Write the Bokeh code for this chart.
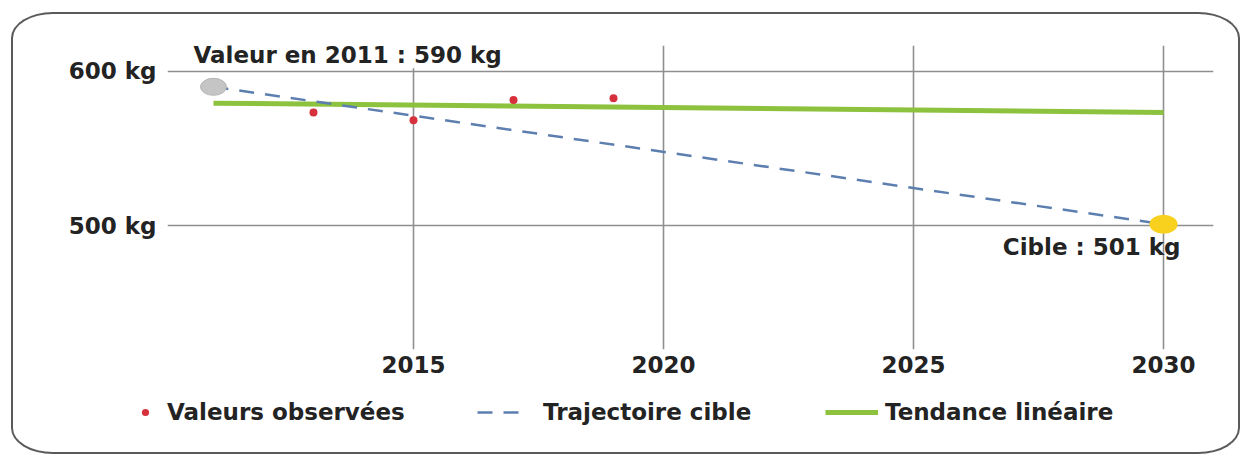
from bokeh.plotting import figure
from bokeh.layouts import column, row
from bokeh.models import Range1d, FixedTicker, Label, Legend, LegendItem
from bokeh.embed import file_html
from bokeh.resources import INLINE

# Observed household waste per inhabitant (kg)
observed_years = [2013, 2015, 2017, 2019]
observed_values = [573.3, 568.3, 581.5, 582.6]

# Reference value and target
start_year = 2011
start_value = 590
target_year = 2030
target_value = 501

# Target trajectory (straight line from reference to target)
trajectory_years = [start_year, target_year]
trajectory_values = [start_value, target_value]

# Linear trend of the observed values
trend_years = [2011, 2030]
trend_values = [579.4, 573.4]

x_ticks = [2015, 2020, 2025, 2030]
x_tick_labels = ["2015", "2020", "2025", "2030"]
y_ticks = [500, 600]
y_tick_labels = ["500 kg", "600 kg"]

legend_labels = ["Valeurs observées", "Trajectoire cible", "Tendance linéaire"]

FONT = "DejaVu Sans"
SIZE = "23px"
TEXT = "#232323"
GRID = "#8f8f8f"
FRAME = "2px solid #5a5a5a"

RED = "#d5303c"
BLUE = "#5d7fb0"
GREEN = "#8dc23f"
DASH = "15 11"

# ---- main chart -------------------------------------------------------
p = figure(
    width=1229, height=373,
    output_backend="svg", toolbar_location=None,
    x_range=Range1d(2010.08, 2031.0),
    y_range=Range1d(419.8, 616.76),
    min_border_left=154, min_border_right=29,
    min_border_top=31, min_border_bottom=38,
)
p.outline_line_color = None
p.background_fill_color = "white"
p.border_fill_color = None
p.styles = {
    "border": FRAME,
    "border-bottom": "none",
    "border-radius": "42px 42px 0 0 / 26px 26px 0 0",
}

p.xaxis.ticker = FixedTicker(ticks=x_ticks)
p.xaxis.major_label_overrides = dict(zip(x_ticks, x_tick_labels))
p.yaxis.ticker = FixedTicker(ticks=y_ticks)
p.yaxis.major_label_overrides = dict(zip(y_ticks, y_tick_labels))
for ax in (p.xaxis[0], p.yaxis[0]):
    ax.axis_line_color = None
    ax.major_tick_line_color = None
    ax.minor_tick_line_color = None
    ax.major_label_text_font = FONT
    ax.major_label_text_font_style = "bold"
    ax.major_label_text_font_size = SIZE
    ax.major_label_text_color = TEXT
p.xaxis.major_label_standoff = 0
p.yaxis.major_label_standoff = 5

p.xgrid.ticker = FixedTicker(ticks=x_ticks)
p.ygrid.ticker = FixedTicker(ticks=y_ticks)
for g in (p.xgrid[0], p.ygrid[0]):
    g.grid_line_color = GRID
    g.grid_line_width = 1.6

p.line(trend_years, trend_values, line_color=GREEN, line_width=5)
p.line(trajectory_years, trajectory_values, line_color=BLUE,
       line_width=2.5, line_dash=DASH)
p.scatter(observed_years, observed_values, marker="circle", size=8,
          fill_color=RED, line_color=None)
p.ellipse(x=[start_year], y=[start_value], width=26, height=17,
          width_units="screen", height_units="screen",
          fill_color="#c5c5c5", line_color="#b3b3b3", line_width=1)
p.ellipse(x=[target_year], y=[target_value], width=28, height=19,
          width_units="screen", height_units="screen",
          fill_color="#f8d11e", line_color=None)

p.add_layout(Label(
    x=start_year, y=600, x_offset=-20, y_offset=16,
    text=f"Valeur en {start_year} : {start_value} kg",
    text_font=FONT, text_font_style="bold", text_font_size=SIZE,
    text_color=TEXT, text_baseline="alphabetic",
    background_fill_color="white", background_fill_alpha=1.0, padding=0,
))
p.add_layout(Label(
    x=target_year, y=target_value, x_offset=17, y_offset=-23,
    text=f"Cible : {target_value} kg",
    text_font=FONT, text_font_style="bold", text_font_size=SIZE,
    text_color=TEXT, text_align="right", text_baseline="alphabetic",
))

# ---- legend strip -----------------------------------------------------
# The series are repeated here only to give the legend its keys; the
# strip's ranges keep them out of view.
q = figure(
    width=1229, height=69,
    output_backend="svg", toolbar_location=None,
    x_range=Range1d(0, 1), y_range=Range1d(0, 1),
    x_axis_location=None, y_axis_location=None,
    min_border=0,
)
q.outline_line_color = None
q.grid.visible = False
q.background_fill_color = None
q.border_fill_color = None
q.styles = {
    "border": FRAME,
    "border-top": "none",
    "border-radius": "0 0 42px 42px / 0 0 26px 26px",
}

key_obs = q.scatter(observed_years, observed_values, marker="circle", size=8,
                    fill_color=RED, line_color=None)
key_traj = q.line(trajectory_years, trajectory_values, line_color=BLUE,
                  line_width=2.5, line_dash=DASH)
key_trend = q.line(trend_years, trend_values, line_color=GREEN, line_width=5)

def add_key(label, renderer, x, glyph_width, standoff):
    q.add_layout(Legend(
        items=[LegendItem(label=label, renderers=[renderer])],
        location=(x, 29), orientation="horizontal",
        glyph_width=glyph_width, glyph_height=18, label_height=18,
        label_standoff=standoff, padding=0, margin=0, spacing=0,
        border_line_color=None, background_fill_alpha=0,
        label_text_font=FONT, label_text_font_style="bold",
        label_text_font_size=SIZE, label_text_color=TEXT,
    ))

add_key(legend_labels[0], key_obs, 123, 18, 13)
add_key(legend_labels[1], key_traj, 464, 48, 18)
add_key(legend_labels[2], key_trend, 812, 53, 7)

page = column(p, row(q), spacing=0,
              styles={"margin-left": "11px", "margin-top": "12px"})
open("out.html", "w").write(file_html(page, INLINE))
